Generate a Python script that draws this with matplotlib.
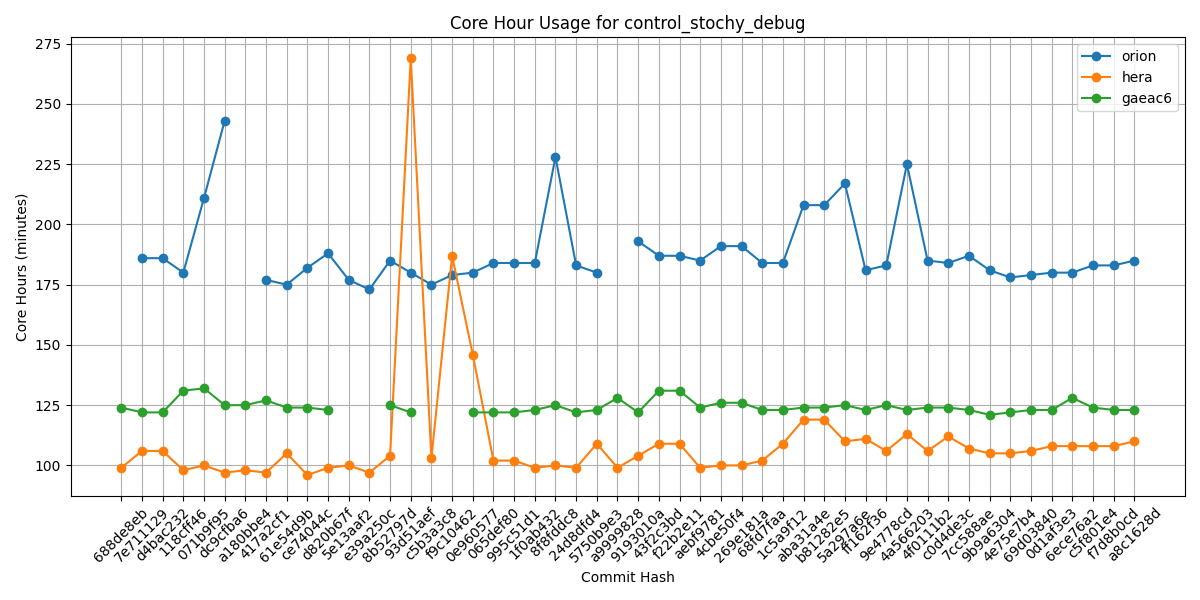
import numpy as np
import matplotlib.pyplot as plt

nan = np.nan

commits = ['688de8eb', '7e711129', 'd4bac232', '118cff46', '071b9f95', 'dc9cfba6',
           'a180bbe4', '417a2cf1', '61e54d9b', 'ce74044c', 'd820b67f', '5e13aaf2',
           'e39a250c', '8b52797d', '93d51aef', 'c5b3a3c8', 'f9c10462', '0e960577',
           '065def80', '995c51d1', '1f0ab432', '8f8fddc8', '24d8dfd4', '5750b9e3',
           'a9999828', '9193010a', '43f2c3bd', 'f22b2e11', 'aebf9781', '4cbe50f4',
           '269e181a', '68fd7faa', '1c5a9f12', 'aba31a4e', 'b81282e5', '5a297a6e',
           'ff162f36', '9e4778cd', '4a566203', '4f0111b2', 'c0d4de3c', '7cc588ae',
           '9b9a6304', '4e75e7b4', '69d03840', '0d1af3e3', '6ece76a2', 'c5f801e4',
           'f7d8b0cd', 'a8c1628d']

orion = [nan, 186, 186, 180, 211, 243, nan, 177, 175, 182,
         188, 177, 173, 185, 180, 175, 179, 180, 184, 184,
         184, 228, 183, 180, nan, 193, 187, 187, 185, 191,
         191, 184, 184, 208, 208, 217, 181, 183, 225, 185,
         184, 187, 181, 178, 179, 180, 180, 183, 183, 185]

hera = [99, 106, 106, 98, 100, 97, 98, 97, 105, 96,
        99, 100, 97, 104, 269, 103, 187, 146, 102, 102,
        99, 100, 99, 109, 99, 104, 109, 109, 99, 100,
        100, 102, 109, 119, 119, 110, 111, 106, 113, 106,
        112, 107, 105, 105, 106, 108, 108, 108, 108, 110]

gaeac6 = [124, 122, 122, 131, 132, 125, 125, 127, 124, 124,
          123, nan, nan, 125, 122, nan, nan, 122, 122, 122,
          123, 125, 122, 123, 128, 122, 131, 131, 124, 126,
          126, 123, 123, 124, 124, 125, 123, 125, 123, 124,
          124, 123, 121, 122, 123, 123, 128, 124, 123, 123]

fig, ax = plt.subplots(figsize=(12, 6), dpi=100)

ax.plot(commits, orion, marker='o', label='orion')
ax.plot(commits, hera, marker='o', label='hera')
ax.plot(commits, gaeac6, marker='o', label='gaeac6')

ax.set_title('Core Hour Usage for control_stochy_debug')
ax.set_xlabel('Commit Hash')
ax.set_ylabel('Core Hours (minutes)')
ax.legend(loc='upper right')
ax.grid(True)
plt.xticks(rotation=45)

plt.tight_layout()
plt.savefig('out.png')
